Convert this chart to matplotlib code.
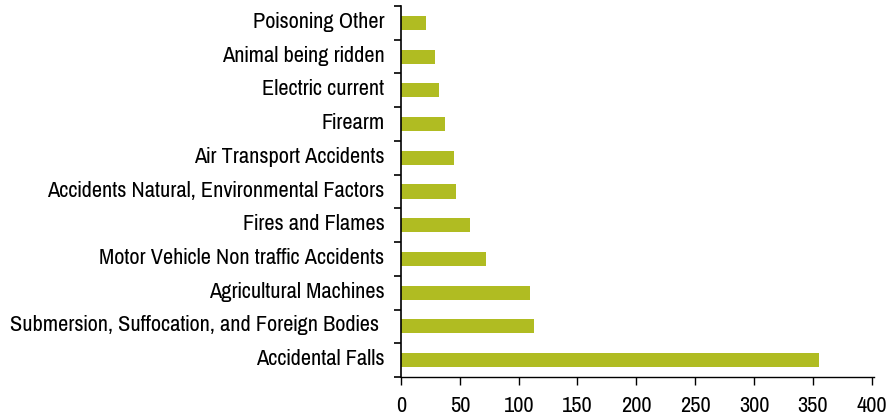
import numpy as np
import matplotlib
matplotlib.use("Agg")
from matplotlib import pyplot as plt
from matplotlib.transforms import ScaledTranslation

# data, bottom to top as drawn
causes = ["Accidental Falls",
          "Submersion, Suffocation, and Foreign Bodies ",
          "Agricultural Machines",
          "Motor Vehicle Non traffic Accidents",
          "Fires and Flames",
          "Accidents Natural, Environmental Factors",
          "Air Transport Accidents",
          "Firearm",
          "Electric current",
          "Animal being ridden",
          "Poisoning Other"]
deaths = [355, 113, 110, 72, 59, 47, 45, 37, 32, 29, 21]
xticks = [0, 50, 100, 150, 200, 250, 300, 350, 400]

plt.rcParams['font.family'] = ['Pragati Narrow', 'Liberation Sans', 'DejaVu Sans']

fig = plt.figure(figsize=(8.95, 4.17), dpi=100)
ax = fig.add_axes([401 / 895, 1 - 377 / 417, (874 - 401) / 895, (377 - 6) / 417])

pos = np.arange(len(causes))
ax.barh(pos, deaths, height=0.42, color="#B0BC22")

ax.set_xlim(0, 402)
ax.set_ylim(-0.5, len(causes) - 0.5)
ax.set_xticks(xticks)
ax.set_xticklabels([str(t) for t in xticks], fontsize=17.5)
ax.set_yticks(pos)
ax.set_yticklabels(causes, fontsize=17.5)
ax.set_yticks(np.arange(len(causes) + 1) - 0.5, minor=True)

ax.tick_params(axis="y", which="major", length=0, pad=12)
ax.tick_params(axis="y", which="minor", length=5, width=1.2, direction="out")
ax.tick_params(axis="x", length=6, width=1, direction="out", pad=8)

# labels sit a little above the bar centres in the original
shift = ScaledTranslation(0, 3 / 100, fig.dpi_scale_trans)
for lab in ax.get_yticklabels():
    lab.set_transform(lab.get_transform() + shift)

for s in ["top", "right"]:
    ax.spines[s].set_visible(False)
ax.spines["left"].set_linewidth(1.2)
ax.spines["bottom"].set_linewidth(1)

fig.savefig("out.png", dpi=100)
